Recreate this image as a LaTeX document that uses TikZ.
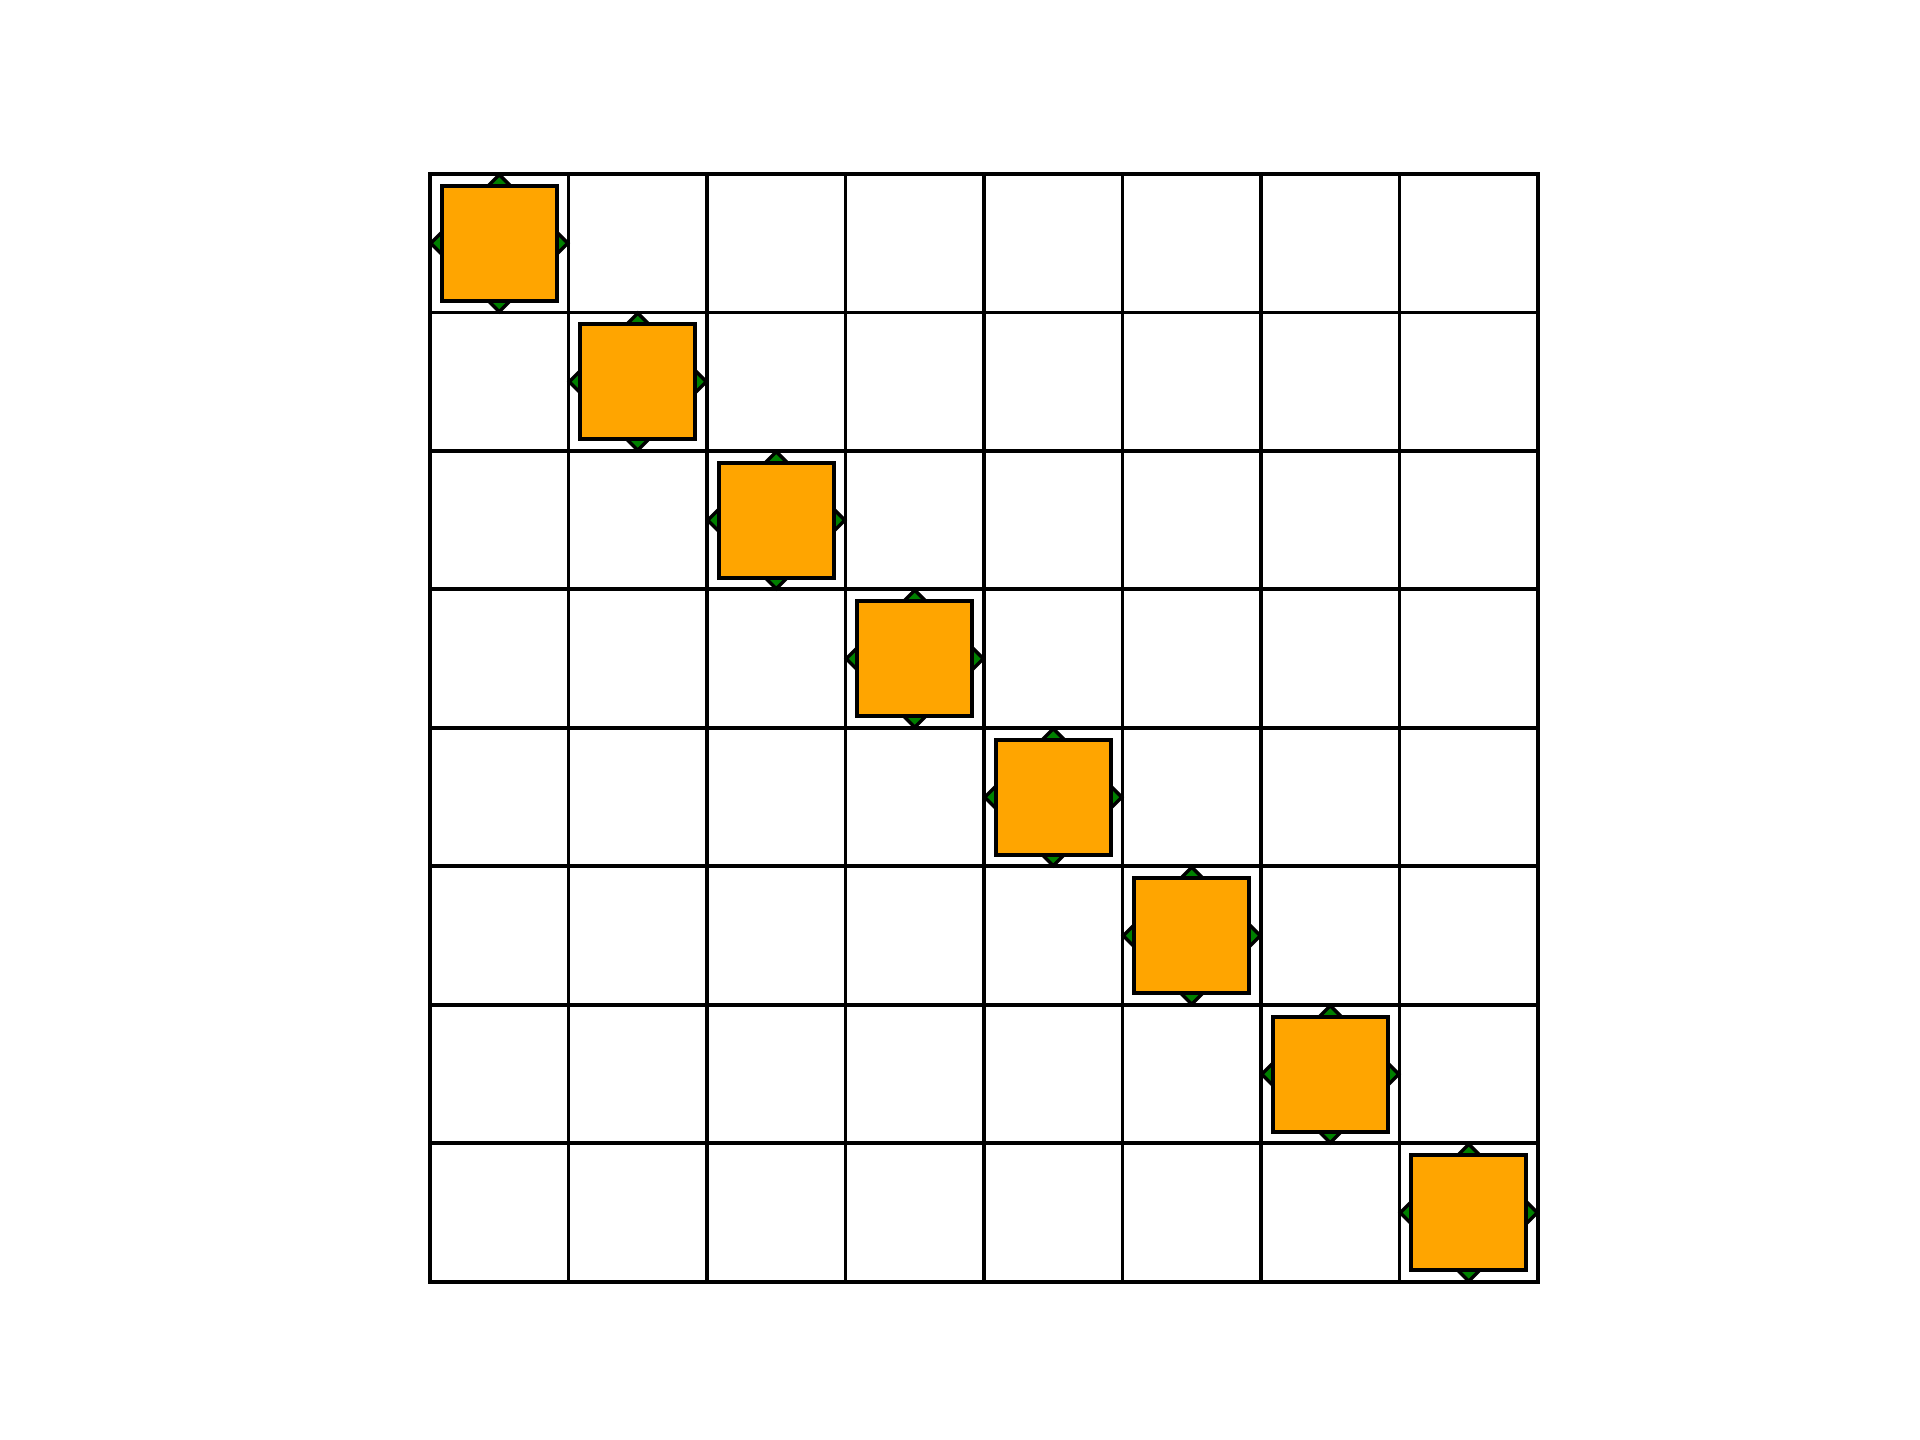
\documentclass[tikz,border=0pt]{standalone}
\usetikzlibrary{shapes.geometric}
\definecolor{sqorange}{HTML}{FFA500}
\definecolor{tipgreen}{HTML}{008000}
\tikzset{
  gridline/.style={line width=0.8pt, black, line cap=rect},
  sqbox/.style={draw=black, fill=sqorange, line width=0.8pt, minimum size=0.83cm, inner sep=0pt, outer sep=0pt},
  tipmark/.style={diamond, draw=black, fill=tipgreen, line width=0.7pt, minimum width=0.17cm, minimum height=0.17cm, inner sep=0pt, aspect=1}
}
\begin{document}
\begin{tikzpicture}
\useasboundingbox (-3.105,-1.141) rectangle (10.758,9.256);
\draw[gridline] (0,0) grid (8,8);
\foreach \i in {0,...,7}{
  \pgfmathsetmacro{\cx}{\i+0.5}
  \pgfmathsetmacro{\cy}{7.5-\i}
  \node[tipmark] (n\i) at (\cx,\cy+0.415) {};
  \node[tipmark] (s\i) at (\cx,\cy-0.415) {};
  \node[tipmark] (w\i) at (\cx-0.415,\cy) {};
  \node[tipmark] (e\i) at (\cx+0.415,\cy) {};
  \node[sqbox] (q\i) at (\cx,\cy) {};
}
\end{tikzpicture}
\end{document}
